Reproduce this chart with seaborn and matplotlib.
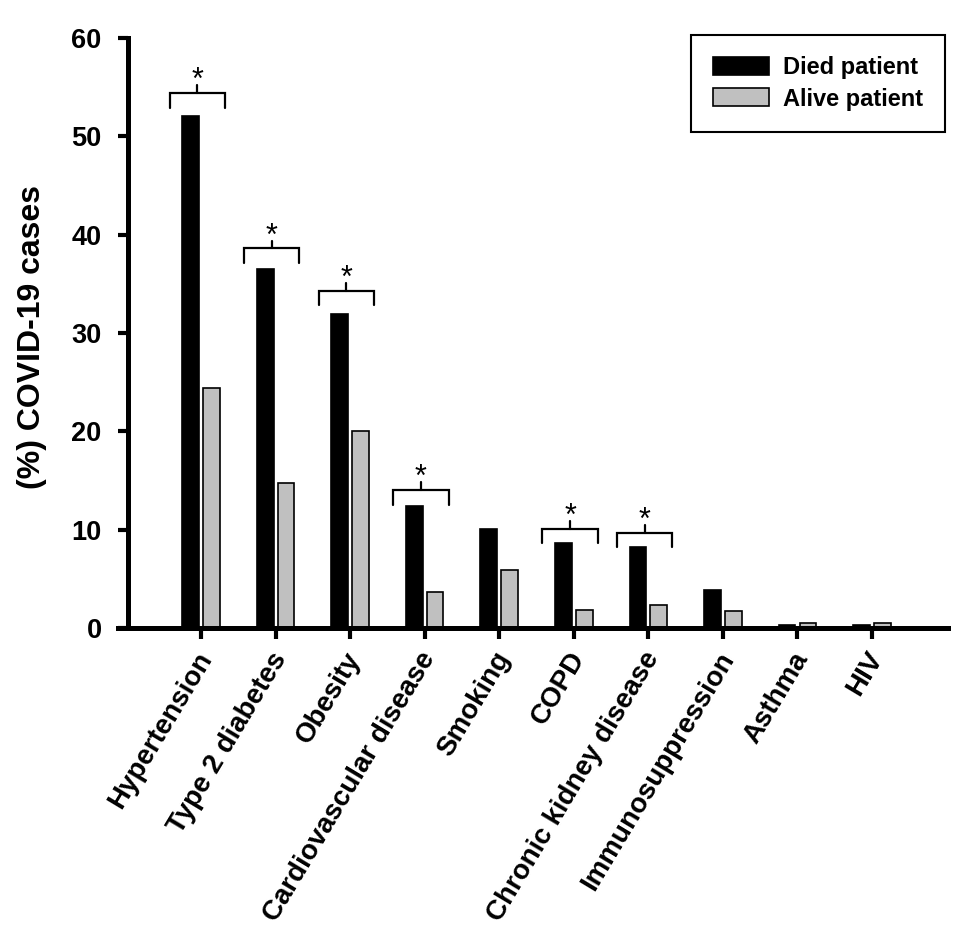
import matplotlib
matplotlib.use("Agg")
import matplotlib.pyplot as plt
import matplotlib.transforms as mtransforms
import seaborn as sns
import pandas as pd

categories = ["Hypertension", "Type 2 diabetes", "Obesity", "Cardiovascular disease",
              "Smoking", "COPD", "Chronic kidney disease", "Immunosuppression",
              "Asthma", "HIV"]
died = [52.1, 36.5, 31.9, 12.4, 10.1, 8.6, 8.2, 3.9, 0.3, 0.3]
alive = [24.4, 14.7, 20.0, 3.7, 5.9, 1.8, 2.3, 1.7, 0.5, 0.5]
series = ["Died patient", "Alive patient"]
significant = ["Hypertension", "Type 2 diabetes", "Obesity", "Cardiovascular disease",
               "COPD", "Chronic kidney disease"]
bracket_top = [54.4, 38.6, 34.3, 14.0, 10.1, 9.7]
yticks = [0, 10, 20, 30, 40, 50, 60]

df = pd.DataFrame({
    "Condition": categories * 2,
    "Value": died + alive,
    "Group": [series[0]] * len(categories) + [series[1]] * len(categories),
})

sns.set_style("white")
plt.rcParams["font.family"] = ["Liberation Sans", "DejaVu Sans"]
plt.rcParams["font.weight"] = "bold"
plt.rcParams["text.color"] = "black"
plt.rcParams["axes.labelcolor"] = "black"
plt.rcParams["xtick.color"] = "black"
plt.rcParams["ytick.color"] = "black"

fig = plt.figure(figsize=(9.76, 9.27), dpi=100)
ax = fig.add_axes([128 / 976, 1 - 628 / 927, 820 / 976, 590 / 927])

sns.barplot(data=df, x="Condition", y="Value", hue="Group", order=categories,
            hue_order=series, palette={series[0]: "black", series[1]: "#c0c0c0"},
            width=0.56, gap=0.2, edgecolor="black", linewidth=1.2, ax=ax,
            errorbar=None)

ax.set_xlim(-0.98, 10.02)
ax.set_ylim(0, 60)
ax.set_yticks(yticks)
ax.set_yticklabels([str(t) for t in yticks], fontsize=19.5, fontweight="bold", color="black")
ax.set_xlabel("")
ax.set_ylabel("(%) COVID-19 cases", fontsize=23, fontweight="bold", color="black")
ax.yaxis.set_label_coords(-0.099, 0.494)

for s in ["top", "right"]:
    ax.spines[s].set_visible(False)
for s in ["left", "bottom"]:
    ax.spines[s].set_linewidth(3.6)
    ax.spines[s].set_color("black")
ax.spines["bottom"].set_bounds(-1.11, 10.02)
ax.spines["left"].set_zorder(5)
ax.spines["bottom"].set_zorder(5)

ax.tick_params(axis="y", direction="out", length=7, width=3, color="black", pad=12, left=True)
ax.tick_params(axis="x", direction="out", length=8, width=3, color="black", pad=6, bottom=True)

offset = mtransforms.ScaledTranslation(-6 / 100, 0, fig.dpi_scale_trans)
ax.set_xticks(range(len(categories)))
ax.set_xticklabels(categories, fontsize=20, fontweight="bold", rotation=59,
                   ha="right", va="top", rotation_mode="anchor", color="black")
for lab in ax.get_xticklabels():
    lab.set_transform(lab.get_transform() + offset)

# significance brackets
for name, top in zip(significant, bracket_top):
    i = categories.index(name)
    x0, x1, xm = i - 0.42, i + 0.32, i - 0.05
    ax.plot([x0, x0, x1, x1], [top - 1.5, top, top, top - 1.5], color="black", lw=1.6,
            solid_joinstyle="miter", clip_on=False)
    ax.plot([xm, xm], [top, top + 0.8], color="black", lw=1.6, clip_on=False)
    ax.text(xm, top + 0.4, "*", ha="center", va="baseline", fontsize=22,
            fontweight="normal", color="black")

leg = ax.legend(loc="upper right", bbox_to_anchor=(0.996, 1.005), fontsize=17,
                frameon=True, fancybox=False, edgecolor="black", framealpha=1,
                handlelength=2.4, handleheight=0.8, handletextpad=0.6,
                borderpad=0.9, labelspacing=0.35, borderaxespad=0)
leg.get_frame().set_linewidth(1.5)
for t in leg.get_texts():
    t.set_fontweight("bold")
    t.set_color("black")

fig.savefig("out.png", dpi=100)
